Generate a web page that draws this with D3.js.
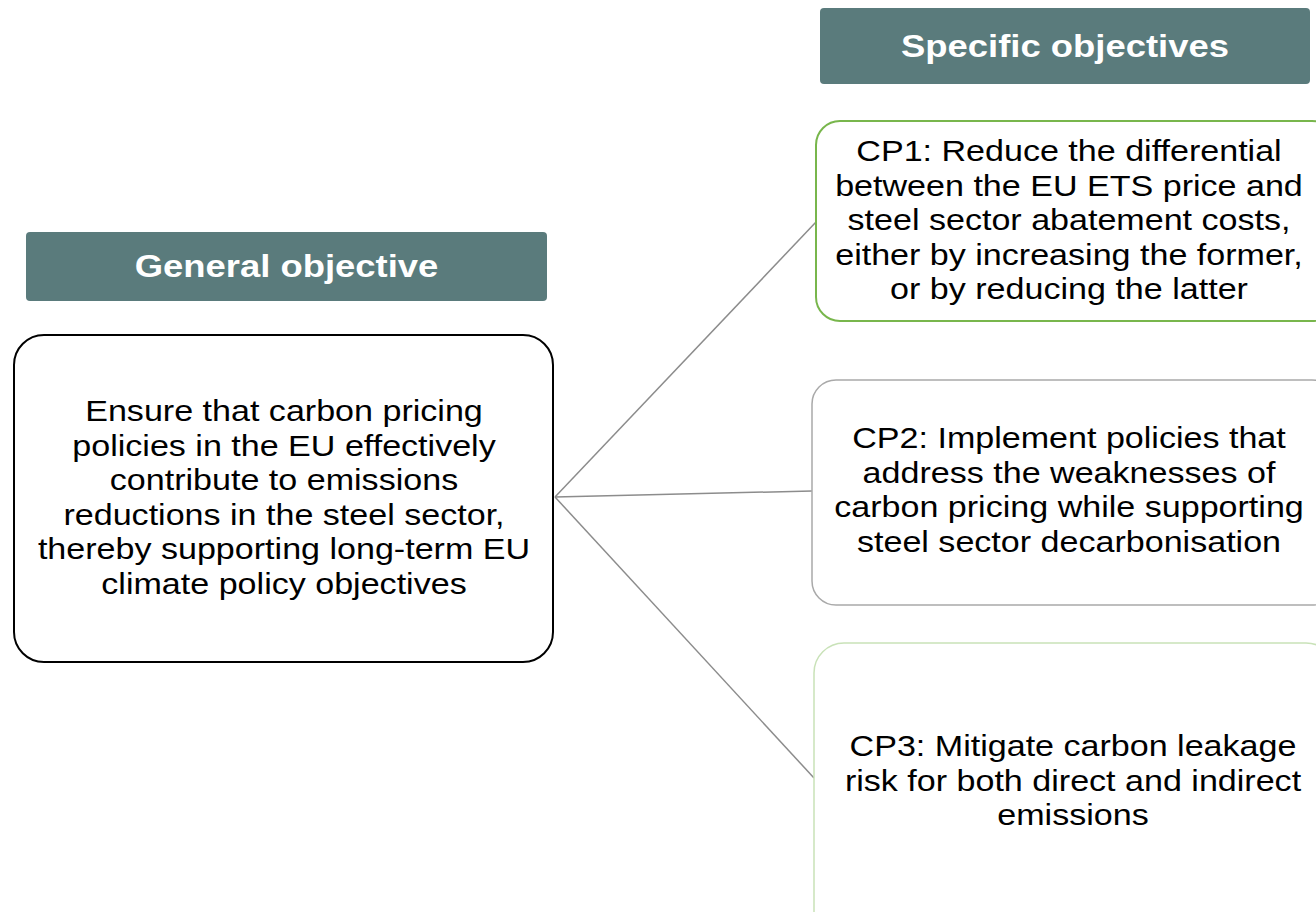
<!DOCTYPE html>
<html>
<head>
<meta charset="utf-8">
<script src="https://cdn.jsdelivr.net/npm/d3@7"></script>
<style>
html,body{margin:0;padding:0;background:#fff;}
svg{display:block;}
text{font-family:"Liberation Sans",Arial,sans-serif;}
</style>
</head>
<body>
<svg id="chart" width="1316" height="912"></svg>
<script>
// ---- content ----
const headers = ["General objective", "Specific objectives"];
const generalLines = [
  "Ensure that carbon pricing",
  "policies in the EU effectively",
  "contribute to emissions",
  "reductions in the steel sector,",
  "thereby supporting long-term EU",
  "climate policy objectives"
];
const cp1Lines = [
  "CP1: Reduce the differential",
  "between the EU ETS price and",
  "steel sector abatement costs,",
  "either by increasing the former,",
  "or by reducing the latter"
];
const cp2Lines = [
  "CP2: Implement policies that",
  "address the weaknesses of",
  "carbon pricing while supporting",
  "steel sector decarbonisation"
];
const cp3Lines = [
  "CP3: Mitigate carbon leakage",
  "risk for both direct and indirect",
  "emissions"
];
const specificTexts = [cp1Lines, cp2Lines, cp3Lines];

// ---- layout / style ----
const svg = d3.select("#chart");
const stretch = 1.175; // horizontal stretch of the original picture
const headerFill = "#5a7b7c";
const headerBoxes = [
  {x: 26, y: 232, w: 521, h: 69},
  {x: 820, y: 8, w: 490, h: 76}
];
const generalBox = {x: 14, y: 335, w: 539, h: 327, r: 30, stroke: "#000", sw: 2, lineY0: 411, cx: 284};
const specificBoxes = [
  {x: 816, y: 121, w: 520, h: 200, r: 24, stroke: "#78b64c", sw: 2, lineY0: 151, cx: 1069, anchorY: 222},
  {x: 812, y: 380, w: 524, h: 225, r: 24, stroke: "#a9a9a9", sw: 1.5, lineY0: 438, cx: 1069, anchorY: 491},
  {x: 814, y: 643, w: 522, h: 300, r: 30, stroke: "#c9e2b8", sw: 1.5, lineY0: 746, cx: 1073, anchorY: 778}
];
const lineH = 34.5;
const origin = {x: 555, y: 497};

// connectors
svg.append("g").selectAll("line")
  .data(specificBoxes)
  .join("line")
  .attr("x1", origin.x).attr("y1", origin.y)
  .attr("x2", d => d.x).attr("y2", d => d.anchorY)
  .attr("stroke", "#8c8c8c").attr("stroke-width", 1.5);

// headers
const hg = svg.append("g").selectAll("g")
  .data(headers.map((t, i) => ({t, ...headerBoxes[i]})))
  .join("g");
hg.append("rect")
  .attr("x", d => d.x).attr("y", d => d.y)
  .attr("width", d => d.w).attr("height", d => d.h)
  .attr("rx", 4).attr("fill", headerFill);
hg.append("text")
  .attr("transform", d => `translate(${d.x + d.w / 2},${d.y + d.h / 2}) scale(${stretch},1)`)
  .attr("text-anchor", "middle").attr("dominant-baseline", "central")
  .attr("fill", "#fff").attr("font-weight", "bold").attr("font-size", 31)
  .text(d => d.t);

// boxes with text
function drawBox(b, lines) {
  const g = svg.append("g");
  g.append("rect")
    .attr("x", b.x).attr("y", b.y).attr("width", b.w).attr("height", b.h)
    .attr("rx", b.r).attr("fill", "#fff")
    .attr("stroke", b.stroke).attr("stroke-width", b.sw);
  g.selectAll("text").data(lines).join("text")
    .attr("transform", (d, i) => `translate(${b.cx},${b.lineY0 + i * lineH}) scale(${stretch},1)`)
    .attr("text-anchor", "middle").attr("dominant-baseline", "central")
    .attr("font-size", 29).attr("fill", "#000")
    .text(d => d);
}
drawBox(generalBox, generalLines);
specificBoxes.forEach((b, i) => drawBox(b, specificTexts[i]));
</script>
</body>
</html>
